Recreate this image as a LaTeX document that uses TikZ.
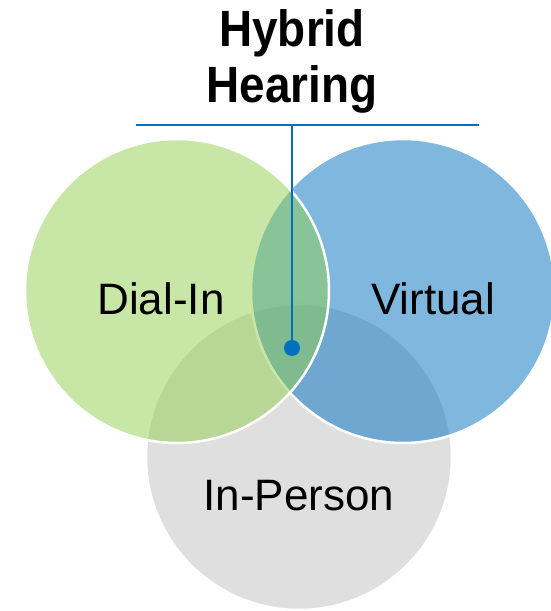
\documentclass[tikz,border=0pt]{standalone}
\usepackage{fontspec}
\setmainfont{Liberation Sans}
\newfontfamily\titlefont{Liberation Sans}[FakeStretch=0.9]
\definecolor{dialgreen}{HTML}{92D050}
\definecolor{virtblue}{HTML}{0070C0}
\definecolor{persongray}{HTML}{BFBFBF}
\definecolor{callout}{HTML}{0070C0}

\begin{document}
\begin{tikzpicture}[x=1pt,y=1pt,
venn/.style={circle,minimum size=304pt,inner sep=0pt,
fill opacity=0.5,text opacity=1,draw=white,line width=2.5pt},
lbl/.style={inner sep=0pt,anchor=base,font=\fontsize{44}{44}\selectfont},
link/.style={draw=callout,line width=2pt}]
\useasboundingbox (0,0) rectangle (550,611);
% circles, back to front
\node[venn,fill=persongray,minimum size=306pt] (gray) at (299,154) {};
\node[venn,fill=virtblue] (blue) at (403,320) {};
\node[venn,fill=dialgreen] (green) at (177,320) {};
% labels
\node[lbl] (dialin) at (161,296) {Dial-In};
\node[lbl] (virtual) at (433,296) {Virtual};
\node[lbl] (inperson) at (299,100) {In-Person};
\node[inner sep=0pt,anchor=base,align=center,
font=\titlefont\bfseries\fontsize{51}{56}\selectfont] (title) at (292,508) {Hybrid\\Hearing};
% callout
\coordinate (barl) at (136,486);
\coordinate (barr) at (479,486);
\coordinate (bartop) at (292,486);
\node[circle,fill=callout,minimum size=16pt,inner sep=0pt] (hub) at (292,263) {};
\draw[link] (barl) -- (barr);
\draw[link] (hub.center) -- (bartop);
\end{tikzpicture}
\end{document}
